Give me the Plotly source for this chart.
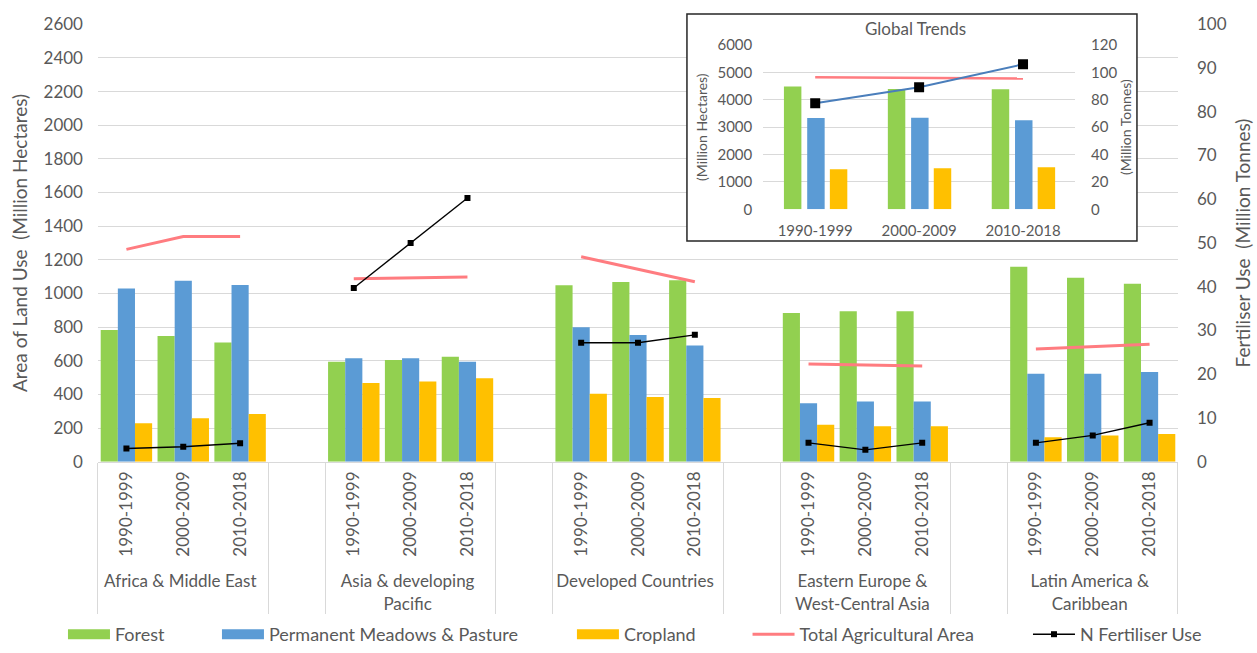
import plotly.graph_objects as go

# ---------------- data ----------------
regions = ["Africa & Middle East", "Asia & developing<br>Pacific", "Developed Countries",
           "Eastern Europe &<br>West-Central Asia", "Latin America &<br>Caribbean"]
periods = ["1990-1999", "2000-2009", "2010-2018"]

# values per region (in region order), 3 periods each  (Million Hectares)
forest = [783, 747, 709, 594, 604, 624, 1049, 1068, 1078, 884, 894, 894, 1159, 1094, 1058]
pasture = [1030, 1076, 1050, 615, 615, 594, 799, 753, 690, 347, 357, 357, 523, 523, 533]
cropland = [228, 258, 283, 468, 476, 496, 404, 385, 378, 220, 210, 210, 145, 155, 165]
total_agri = [1262, 1338, 1338, 1088, 1095, 1098, 1218, 1144, 1070, 581, 575, 569, 670, 684, 698]
# N fertiliser use (Million Tonnes)
n_fert = [3.0, 3.4, 4.2, 39.7, 50.0, 60.3, 27.2, 27.2, 29.0, 4.3, 2.7, 4.3, 4.3, 6.0, 8.9]

# global trends inset
g_forest = [4480, 4395, 4380]
g_pasture = [3335, 3347, 3250]
g_cropland = [1460, 1497, 1533]
g_total_agri = [4820, 4810, 4775]
g_n_fert = [77.4, 89.1, 105.9]

GREEN, BLUE, GOLD, PINK = "#92d050", "#5b9bd5", "#ffc000", "#ff7c80"
GRAY_TXT, GRID = "#595959", "#d9d9d9"
FONT = "Lato"


# ---------------- build multicategory axis with blank spacer groups ----------------
def with_spacers(vals):
    out = []
    for i in range(len(regions)):
        out += list(vals[i * 3:(i + 1) * 3])
        if i < len(regions) - 1:
            out.append(None)
    return out


outer, inner = [], []
for i, r in enumerate(regions):
    outer += [r] * len(periods)
    inner += periods
    if i < len(regions) - 1:
        outer.append(" " * (i + 1))
        inner.append(" ")
xcat = [outer, inner]
n_cat = len(inner)

fig = go.Figure()

for name, vals, col in [("Forest", forest, GREEN),
                        ("Permanent Meadows & Pasture", pasture, BLUE),
                        ("Cropland", cropland, GOLD)]:
    fig.add_trace(go.Bar(x=xcat, y=with_spacers(vals), name=name, marker_color=col,
                         marker_line_width=0, showlegend=False, xaxis="x", yaxis="y"))

fig.add_trace(go.Scatter(x=xcat, y=with_spacers(total_agri), name="Total Agricultural Area",
                         mode="lines", line=dict(color=PINK, width=3), connectgaps=False,
                         showlegend=False, xaxis="x", yaxis="y"))
fig.add_trace(go.Scatter(x=xcat, y=with_spacers(n_fert), name="N Fertiliser Use",
                         mode="lines+markers", line=dict(color="black", width=1.4),
                         marker=dict(symbol="square", size=6, color="black"),
                         connectgaps=False, showlegend=False, xaxis="x", yaxis="y2"))

# ---------------- inset ----------------
for vals, col, off in [(g_forest, GREEN, -0.301), (g_pasture, BLUE, -0.077), (g_cropland, GOLD, 0.141)]:
    fig.add_trace(go.Bar(x=periods, y=vals, marker_color=col, marker_line_width=0,
                         width=0.168, offset=off, showlegend=False, xaxis="x2", yaxis="y3"))
fig.add_trace(go.Scatter(x=periods, y=g_total_agri, mode="lines", line=dict(color=PINK, width=2.5),
                         showlegend=False, xaxis="x2", yaxis="y3"))
fig.add_trace(go.Scatter(x=periods, y=g_n_fert, mode="lines+markers",
                         line=dict(color="#4a7ebb", width=2),
                         marker=dict(symbol="square", size=10, color="black"),
                         showlegend=False, xaxis="x2", yaxis="y4"))

# ---------------- legend proxies (one legend each, placed individually) ----------------
leg_items = [("Forest", dict(color=GREEN, width=10), None, 0.0501),
             ("Permanent Meadows & Pasture", dict(color=BLUE, width=10), None, 0.1726),
             ("Cropland", dict(color=GOLD, width=10), None, 0.4550),
             ("Total Agricultural Area", dict(color=PINK, width=3), None, 0.5947),
             ("N Fertiliser Use", dict(color="black", width=1.4),
              dict(symbol="square", size=6, color="black"), 0.8178)]
legend_layouts = {}
for k, (name, ln, mk, lx) in enumerate(leg_items):
    key = "legend" if k == 0 else f"legend{k + 1}"
    fig.add_trace(go.Scatter(x=[None], y=[None], name=name,
                             mode="lines+markers" if mk else "lines",
                             line=ln, marker=mk, legend=key, showlegend=True,
                             xaxis="x", yaxis="y"))
    legend_layouts[key] = dict(x=lx, y=0.0, xanchor="left", yanchor="bottom",
                               orientation="h", bgcolor="rgba(0,0,0,0)",
                               font=dict(family=FONT, size=18, color=GRAY_TXT),
                               itemwidth=42)

tick_main = dict(family=FONT, size=17, color=GRAY_TXT)
title_main = dict(family=FONT, size=19, color=GRAY_TXT)
tick_inset = dict(family=FONT, size=15, color=GRAY_TXT)
title_inset = dict(family=FONT, size=14, color=GRAY_TXT)

fig.update_layout(
    width=1257, height=653, autosize=False,
    margin=dict(l=0, r=0, t=0, b=0, pad=0, autoexpand=False),
    paper_bgcolor="white", plot_bgcolor="white",
    font=dict(family=FONT, color=GRAY_TXT),
    barmode="group", bargap=0.095, bargroupgap=0,
    xaxis=dict(type="multicategory", domain=[0.07796, 0.93715], anchor="y",
               range=[-0.5, n_cat - 0.5], automargin=False,
               showline=True, linecolor=GRID, linewidth=1, ticks="", tickangle=-90,
               tickfont=tick_main, showdividers=True, dividercolor=GRID, dividerwidth=1,
               showgrid=False, zeroline=False, ticklabelstandoff=2),
    yaxis=dict(domain=[0.293, 0.9628], range=[0, 2600], dtick=200, showgrid=True,
               gridcolor=GRID, gridwidth=1, zeroline=False, ticks="", tickfont=tick_main,
               automargin=False, ticklabelstandoff=14,
               title=dict(text="Area of Land Use  (Million Hectares)", font=title_main,
                          standoff=10)),
    yaxis2=dict(overlaying="y", side="right", anchor="x", range=[0, 100], dtick=10,
                showgrid=False, zeroline=False, ticks="", tickfont=tick_main,
                automargin=False, ticklabelstandoff=18,
                title=dict(text="Fertiliser Use  (Million Tonnes)", font=title_main,
                           standoff=10)),
    xaxis2=dict(type="category", domain=[0.6072, 0.8552], anchor="y3", showline=False,
                ticks="", tickfont=tick_inset, showgrid=False, zeroline=False,
                automargin=False, ticklabelstandoff=11),
    yaxis3=dict(domain=[0.6795, 0.9311], anchor="x2", range=[0, 6000], dtick=1000,
                showgrid=True, gridcolor=GRID, zeroline=False, ticks="",
                tickfont=tick_inset, automargin=False, ticklabelstandoff=10,
                title=dict(text="(Million Hectares)", font=title_inset, standoff=6)),
    yaxis4=dict(overlaying="y3", side="right", anchor="x2", range=[0, 120], dtick=20,
                showgrid=False, zeroline=False, ticks="", tickfont=tick_inset,
                automargin=False, ticklabelstandoff=15,
                title=dict(text="(Million Tonnes)", font=title_inset, standoff=3)),
    shapes=[
        # white background of the inset hiding main gridlines (below traces)
        dict(type="rect", xref="x", yref="y", x0=9.86, x1=17.78, y0=1312, y1=2700,
             fillcolor="white", line_width=0, layer="between"),
        # inset frame
        dict(type="rect", xref="paper", yref="paper", x0=0.5465, x1=0.9045,
             y0=0.6309, y1=0.9786, line=dict(color="#262626", width=1.5),
             fillcolor="rgba(0,0,0,0)", layer="above"),
    ],
    annotations=[
        dict(text="Global Trends", x=0.7284, y=0.957, xref="paper", yref="paper",
             xanchor="center", yanchor="middle", showarrow=False,
             font=dict(family=FONT, size=17, color=GRAY_TXT)),
    ],
    **legend_layouts,
)

fig.write_html("out.html")
